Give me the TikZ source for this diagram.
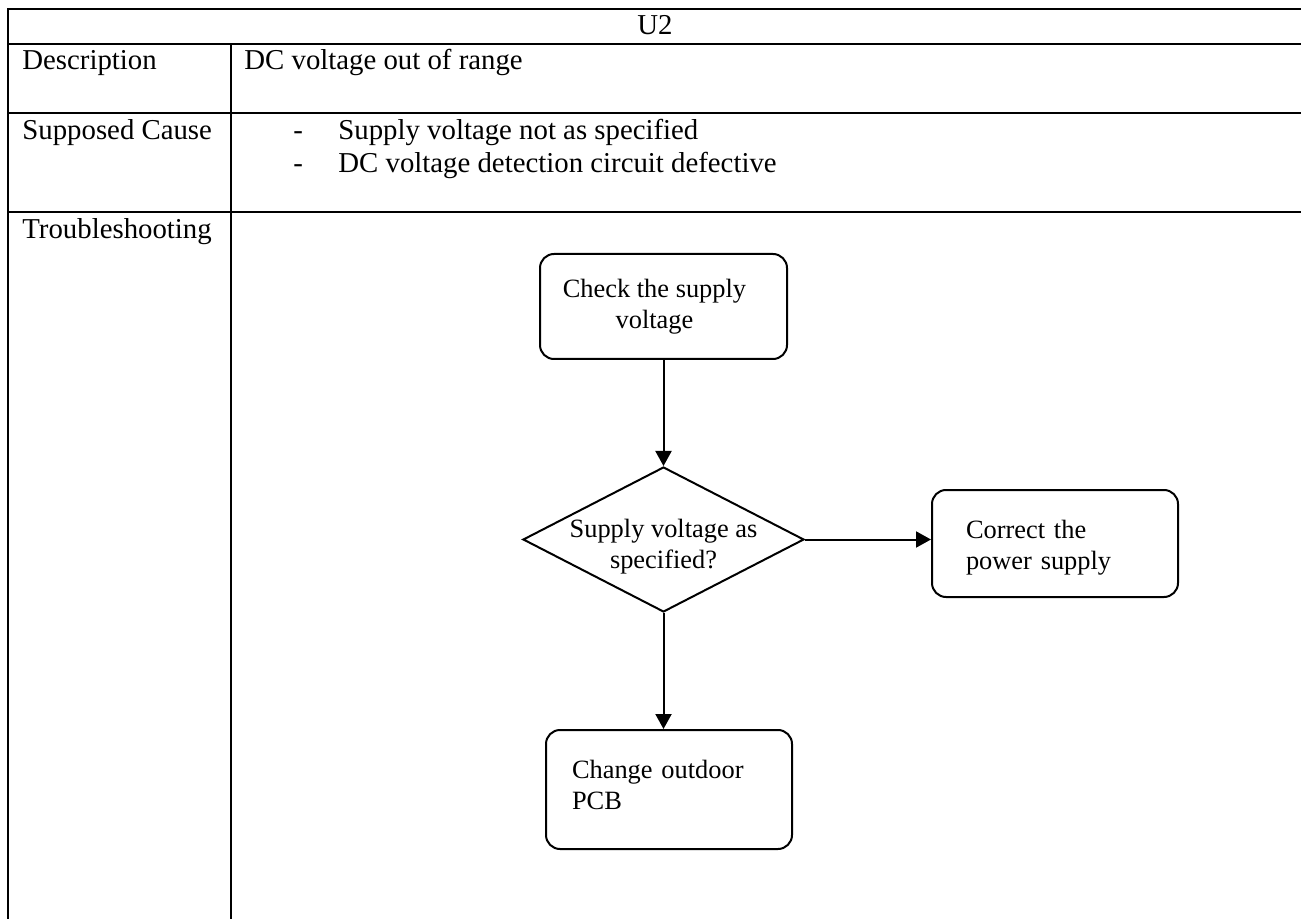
\documentclass[tikz,border=0pt]{standalone}
\usepackage{fontspec}
\setmainfont{Liberation Serif}
\usetikzlibrary{arrows.meta,shapes.geometric}

\begin{document}
\begin{tikzpicture}[x=0.5pt,y=-0.5pt,
    grid/.style={line width=1.4pt},
    cell/.style={anchor=base west,inner sep=0pt,font=\fontsize{14.4}{17}\selectfont},
    box/.style={draw,line width=1pt,rounded corners=7pt,inner ysep=0pt,
        font=\fontsize{13.2}{15.5}\selectfont},
    decision/.style={draw,diamond,line width=1pt,inner sep=0pt,
        minimum width=140.5pt,minimum height=72.5pt},
    flow/.style={line width=1pt,-{Triangle[length=7.5pt,width=8pt]}}]

\useasboundingbox (0,0) rectangle (1301,919);

% table
\draw[grid] (1301,9) -- (8,9) -- (8,919);
\draw[grid] (231,44) -- (231,919);
\foreach \y in {44,113,212}
    \draw[grid] (8,\y) -- (1301,\y);

\node[cell,anchor=base] (code) at (655,35) {U2};
\node[cell] (desc) at (22,70) {Description};
\node[cell] (desctext) at (244,70) {DC voltage out of range};
\node[cell] (cause) at (22,140) {Supposed Cause};
\node[cell] (dash1) at (293,140) {-};
\node[cell] (cause1) at (338,140) {Supply voltage not as specified};
\node[cell] (dash2) at (293,173) {-};
\node[cell] (cause2) at (338,173) {DC voltage detection circuit defective};
\node[cell] (trouble) at (22,239) {Troubleshooting};

% flow chart
\node[box,align=center,minimum width=123.5pt,minimum height=52.5pt] (supply) at (663.5,306.5)
    {Check the supply\hspace*{9pt}\\voltage\hspace*{9pt}};
\node[decision] (asspec) at (663.5,539.5) {};
\node[font=\fontsize{13.2}{15.5}\selectfont,align=center] (asspectext) at (663.5,547)
    {Supply voltage as\\specified?};
\node[box,align=left,text width=89pt,inner xsep=17pt,minimum height=53.5pt] (power) at (1055,543.5)
    {\rule{0pt}{13pt}Correct the\\power supply};
\node[box,align=left,text width=97pt,inner xsep=13pt,minimum height=59.5pt] (pcb) at (669,789.5)
    {Change outdoor\\PCB\rule[-5pt]{0pt}{1pt}};

\draw[flow] (supply) -- (asspec);
\draw[flow] (asspec.east) -- (asspec.east -| power.west);
\draw[flow] (asspec.south) -- (asspec.south |- pcb.north);

\end{tikzpicture}
\end{document}
